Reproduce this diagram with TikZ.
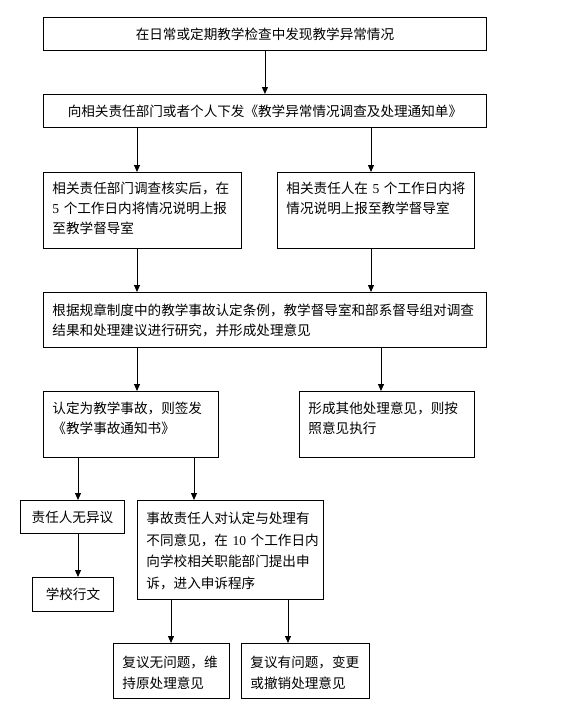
\documentclass[tikz,border=0pt]{standalone}
\usepackage{fontspec}
\newfontfamily\cjk{Noto Sans CJK SC}
\newfontfamily\numfont{Liberation Serif}
\usetikzlibrary{arrows.meta}

\tikzset{
  box/.style={draw, line width=0.9pt, inner sep=0pt, anchor=north west,
    font=\cjk\fontsize{13.6}{20}\selectfont},
  onebox/.style={box, align=center},
  textbox/.style={box, inner xsep=9pt, align=left},
  arr/.style={-{Triangle[length=7pt,width=6pt]}, line width=0.9pt},
}

\begin{document}
\begin{tikzpicture}[x=1pt,y=-1pt]

% Page
\fill[white] (0,0) rectangle (568,721);
\useasboundingbox (0,0) rectangle (568,721);

% Arrow columns
\coordinate (x1) at (137,0);
\coordinate (x2) at (371,0);
\coordinate (x3) at (381,0);
\coordinate (x4) at (78,0);
\coordinate (x5) at (194,0);
\coordinate (x6) at (171,0);
\coordinate (x7) at (288,0);

% Boxes
\node[onebox, minimum width=443pt, minimum height=33pt] (find) at (43,17)
  {在日常或定期教学检查中发现教学异常情况};
\node[onebox, minimum width=443pt, minimum height=33pt] (notice) at (43,94)
  {向相关责任部门或者个人下发《教学异常情况调查及处理通知单》};

\node[textbox, text width=180pt, text height=21pt, text depth=55pt] (deptreport) at (43,172)
  {相关责任部门调查核实后，在\\{\numfont 5}~个工作日内将情况说明上报\\至教学督导室};
\node[textbox, text width=179pt, text height=21pt, text depth=55pt] (personreport) at (277,172)
  {相关责任人在~{\numfont 5}~个工作日内将\\情况说明上报至教学督导室};

\node[textbox, text width=425pt, text height=23pt, text depth=32pt] (study) at (43,292)
  {根据规章制度中的教学事故认定条例，教学督导室和部系督导组对调查\\结果和处理建议进行研究，并形成处理意见};

\node[textbox, text width=157pt, text height=22pt, text depth=44pt] (accident) at (43,391)
  {认定为教学事故，则签发\\《教学事故通知书》};
\node[textbox, text width=157pt, text height=22pt, text depth=44pt] (other) at (299,391)
  {形成其他处理意见，则按\\照意见执行};

\node[onebox, minimum width=104pt, minimum height=33pt] (noobjection) at (20,500)
  {责任人无异议};
\node[onebox, minimum width=81pt, minimum height=34pt] (document) at (32,577)
  {学校行文};

\node[textbox, text width=168pt, text height=23pt, text depth=76pt,
  font=\cjk\fontsize{13.6}{21.7}\selectfont] (appeal) at (137,500)
  {事故责任人对认定与处理有\\不同意见，在~{\numfont 10}~个工作日内\\向学校相关职能部门提出申\\诉，进入申诉程序};

\node[textbox, text width=98pt, text height=24pt, text depth=31pt,
  font=\cjk\fontsize{13.6}{21}\selectfont] (keep) at (113,643)
  {复议无问题，维\\持原处理意见};
\node[textbox, text width=110pt, text height=24pt, text depth=31pt,
  font=\cjk\fontsize{13.6}{21}\selectfont] (change) at (241,643)
  {复议有问题，变更\\或撤销处理意见};

% Arrows
\draw[arr] (find) -- (notice);
\draw[arr] (notice.south -| x1) -- (deptreport.north -| x1);
\draw[arr] (notice.south -| x2) -- (personreport.north -| x2);
\draw[arr] (deptreport.south -| x1) -- (study.north -| x1);
\draw[arr] (personreport.south -| x2) -- (study.north -| x2);
\draw[arr] (study.south -| x1) -- (accident.north -| x1);
\draw[arr] (study.south -| x3) -- (other.north -| x3);
\draw[arr] (accident.south -| x4) -- (noobjection.north -| x4);
\draw[arr] (accident.south -| x5) -- (appeal.north -| x5);
\draw[arr] (noobjection.south -| x4) -- (document.north -| x4);
\draw[arr] (appeal.south -| x6) -- (keep.north -| x6);
\draw[arr] (appeal.south -| x7) -- (change.north -| x7);

\end{tikzpicture}
\end{document}
